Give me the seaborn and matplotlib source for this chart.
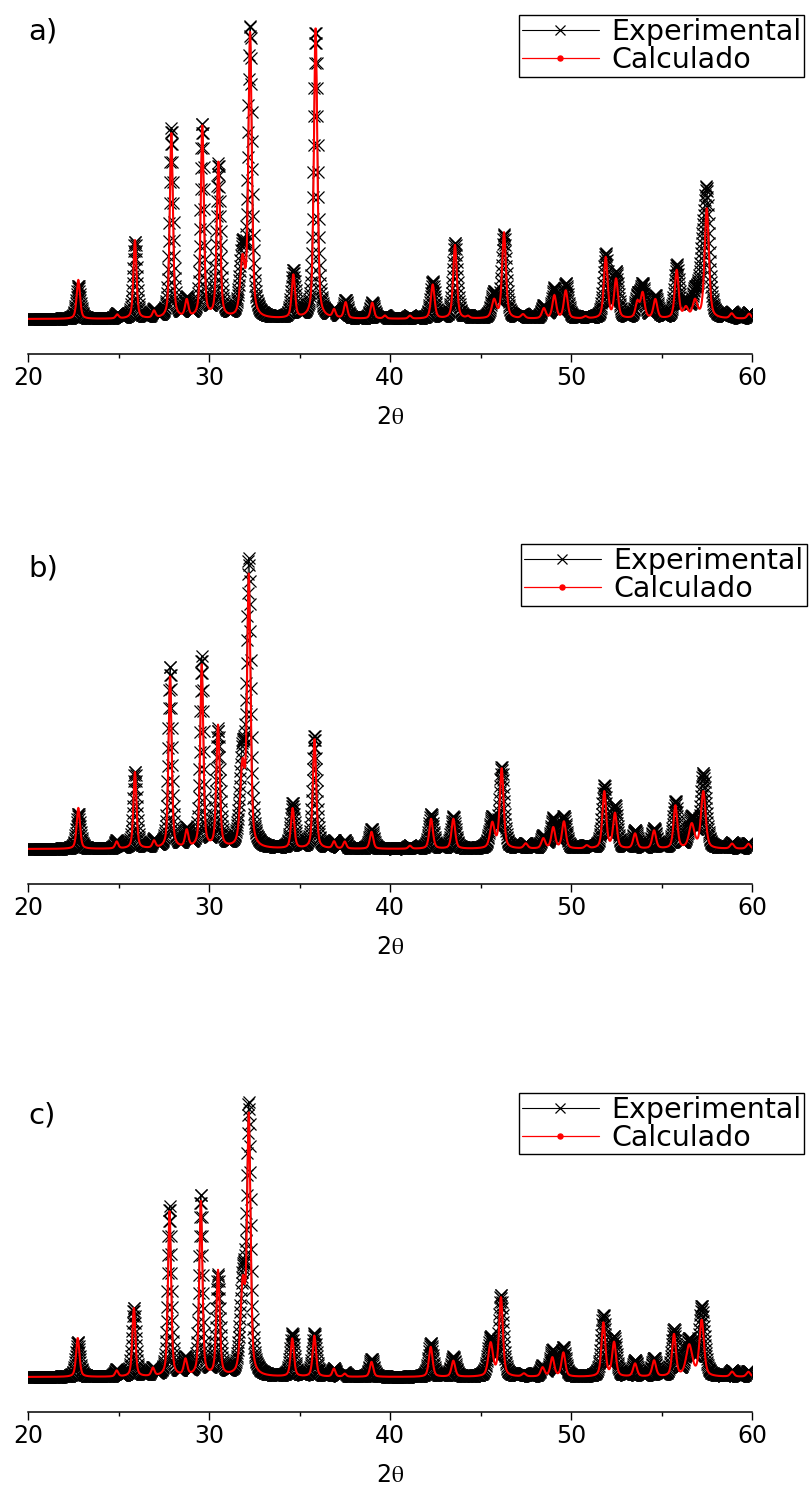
import numpy as np
import pandas as pd
import matplotlib
matplotlib.use("Agg")
import matplotlib.pyplot as plt
from matplotlib.lines import Line2D
import seaborn as sns

# 2-theta scan positions (degrees)
two_theta = np.round(np.arange(20.0, 60.0001, 0.02), 2)

# Sample a): reflection positions, calculated / observed peak intensities (a.u.), FWHM (deg)
pos_a = [22.78, 24.93, 25.91, 26.96, 27.92, 28.77, 29.63, 30.52, 31.85, 32.27,
         34.66, 35.89, 36.91, 37.55, 39.02, 39.72, 41.10, 42.36, 43.59, 44.31,
         45.75, 46.30, 47.35, 48.50, 49.08, 49.71, 50.80, 51.92, 52.49, 53.67,
         53.96, 54.66, 55.84, 56.35, 56.85, 57.25, 57.50, 58.88, 59.84]
calc_a = [39, 4, 79, 7, 185, 17, 193, 155, 55, 285,
          43, 292, 8, 16, 16, 3, 3, 34, 74, 2,
          18, 86, 4, 10, 23, 28, 2, 61, 39, 16,
          25, 19, 48, 10, 17, 0, 110, 5, 5]
obs_a = [33, 5, 77, 8, 190, 18, 193, 152, 65, 287,
         47, 287, 8, 18, 16, 3, 3, 37, 76, 2,
         25, 83, 4, 12, 30, 35, 2, 64, 45, 20,
         32, 22, 52, 14, 22, 50, 115, 6, 6]
fwhm_a = [0.22, 0.2, 0.2, 0.2, 0.2, 0.22, 0.2, 0.22, 0.3, 0.22,
          0.22, 0.22, 0.2, 0.22, 0.22, 0.2, 0.2, 0.24, 0.24, 0.2,
          0.3, 0.25, 0.25, 0.25, 0.25, 0.25, 0.25, 0.25, 0.25, 0.25,
          0.25, 0.25, 0.25, 0.3, 0.3, 0.3, 0.28, 0.25, 0.25]

# Sample b)
pos_b = [22.78, 24.90, 25.91, 26.96, 27.85, 28.77, 29.60, 30.50, 31.85, 32.20,
         34.62, 35.83, 36.91, 37.50, 38.98, 41.10, 42.27, 43.50, 45.65, 46.17,
         47.50, 48.47, 49.02, 49.61, 50.87, 51.84, 52.43, 53.54, 54.59, 55.77,
         56.67, 57.31, 58.90, 59.80]
calc_b = [41, 7, 77, 7, 173, 17, 183, 122, 78, 268,
          40, 110, 7, 7, 17, 3, 30, 30, 25, 80,
          5, 10, 21, 27, 3, 57, 35, 15, 18, 43,
          24, 57, 5, 5]
obs_b = [35, 8, 77, 8, 182, 18, 190, 117, 88, 278,
         45, 113, 8, 8, 20, 3, 35, 32, 30, 80,
         5, 12, 30, 32, 3, 62, 42, 18, 20, 47,
         30, 74, 6, 6]
fwhm_b = [0.22, 0.2, 0.2, 0.2, 0.2, 0.22, 0.2, 0.22, 0.3, 0.22,
          0.22, 0.22, 0.2, 0.2, 0.22, 0.2, 0.24, 0.24, 0.3, 0.25,
          0.25, 0.25, 0.25, 0.25, 0.25, 0.25, 0.25, 0.25, 0.25, 0.25,
          0.35, 0.3, 0.25, 0.25]

# Sample c)
pos_c = [22.75, 24.90, 25.85, 26.90, 27.82, 28.70, 29.55, 30.50, 31.87, 32.20,
         34.60, 35.82, 36.90, 37.50, 38.98, 42.25, 43.50, 45.56, 46.13, 47.40,
         48.43, 48.97, 49.58, 51.79, 52.38, 53.54, 54.59, 55.69, 56.53, 57.22,
         58.90, 59.80]
calc_c = [39, 6, 69, 8, 165, 16, 176, 105, 88, 255,
          38, 41, 8, 3, 15, 30, 16, 33, 79, 3,
          9, 19, 24, 54, 34, 13, 16, 42, 31, 56,
          5, 5]
obs_c = [35, 7, 69, 8, 170, 17, 181, 100, 90, 260,
         43, 43, 8, 4, 18, 34, 20, 38, 80, 3,
         10, 26, 29, 61, 39, 16, 18, 46, 36, 69,
         6, 6]
fwhm_c = [0.22, 0.2, 0.2, 0.2, 0.2, 0.22, 0.2, 0.22, 0.3, 0.22,
          0.22, 0.22, 0.2, 0.2, 0.22, 0.24, 0.24, 0.3, 0.25, 0.25,
          0.25, 0.25, 0.25, 0.25, 0.25, 0.25, 0.25, 0.25, 0.4, 0.3,
          0.25, 0.25]

panel_labels = ["a)", "b)", "c)"]
tick_values = [20, 30, 40, 50, 60]
series_names = ["Experimental", "Calculado"]


def pseudo_voigt(x, pos, height, fwhm, eta=0.5, broaden=1.0):
    """Sum of pseudo-Voigt reflections evaluated on the scan grid."""
    x = np.asarray(x)[:, None]
    p = np.asarray(pos, dtype=float)[None, :]
    h = np.asarray(height, dtype=float)[None, :]
    hw = np.asarray(fwhm, dtype=float)[None, :] * broaden / 2.0
    u = ((x - p) / hw) ** 2
    shape = eta / (1.0 + u) + (1.0 - eta) * np.exp(-np.log(2.0) * u)
    return (h * shape).sum(axis=1)


samples = [
    (pos_a, calc_a, obs_a, fwhm_a),
    (pos_b, calc_b, obs_b, fwhm_b),
    (pos_c, calc_c, obs_c, fwhm_c),
]

sns.set_theme(style="white")
plt.rcParams["font.family"] = ["DejaVu Sans"]
plt.rcParams["mathtext.fontset"] = "stix"
plt.rcParams["text.color"] = "black"
plt.rcParams["axes.labelcolor"] = "black"
plt.rcParams["xtick.color"] = "black"
plt.rcParams["xtick.labelcolor"] = "black"

W, H = 810, 1488
fig = plt.figure(figsize=(W / 100, H / 100), dpi=100)

x_left, x_right = 28, 752
axis_rows = [354, 884, 1412]          # pixel row of each x-axis line
ax_h = 344
label_y = [0.9375, 0.916, 0.863]
legend_anchor = [(0.678, 0.986), (0.681, 0.988), (0.678, 0.928)]

for i, (pos, calc, obs, fwhm) in enumerate(samples):
    ax = fig.add_axes([x_left / W, (H - axis_rows[i]) / H,
                       (x_right - x_left) / W, ax_h / H])
    df = pd.DataFrame({
        "two_theta": two_theta,
        "obs": pseudo_voigt(two_theta, pos, obs, fwhm, broaden=1.2),
        "calc": pseudo_voigt(two_theta, pos, calc, fwhm),
    })
    sns.lineplot(data=df, x="two_theta", y="obs", ax=ax, estimator=None,
                 sort=False, color="black", linewidth=0.6, marker="x",
                 markersize=9, markeredgewidth=0.9, markeredgecolor="black")
    sns.lineplot(data=df, x="two_theta", y="calc", ax=ax, estimator=None,
                 sort=False, color="#ff0000", linewidth=1.5)

    ax.set_xlim(20, 60)
    ax.set_ylim(-35, 309)
    ax.set_xticks(tick_values)
    ax.set_xticks([25, 35, 45, 55], minor=True)
    ax.set_xticklabels([str(t) for t in tick_values], fontsize=17)
    ax.set_yticks([])
    for side in ("left", "top", "right"):
        ax.spines[side].set_visible(False)
    ax.spines["bottom"].set_color("black")
    ax.spines["bottom"].set_linewidth(1.1)
    ax.tick_params(axis="x", which="major", direction="out", length=5.8,
                   width=1.0, color="black", pad=3, bottom=True)
    ax.tick_params(axis="x", which="minor", direction="out", length=2.9,
                   width=1.0, color="black", bottom=True)
    ax.set_xlabel(r"2$\mathrm{\theta}$", fontsize=17, labelpad=11)
    ax.set_ylabel("")
    ax.patch.set_alpha(0)

    ax.text(0.0, label_y[i], panel_labels[i], transform=ax.transAxes,
            fontsize=21, ha="left", va="center")

    handles = [
        Line2D([], [], color="black", linewidth=0.8, marker="x",
               markersize=7, markeredgewidth=0.9),
        Line2D([], [], color="#ff0000", linewidth=0.9, marker="o",
               markersize=3.6),
    ]
    leg = ax.legend(handles, series_names, loc="upper left",
                    bbox_to_anchor=legend_anchor[i], borderaxespad=0,
                    fontsize=20.5, frameon=True, fancybox=False, shadow=False,
                    framealpha=1, edgecolor="black", handlelength=2.7,
                    handletextpad=0.45, labelspacing=0.0, borderpad=0.1)
    leg.get_frame().set_linewidth(1.0)

fig.savefig("out.png", dpi=100, facecolor="white")
